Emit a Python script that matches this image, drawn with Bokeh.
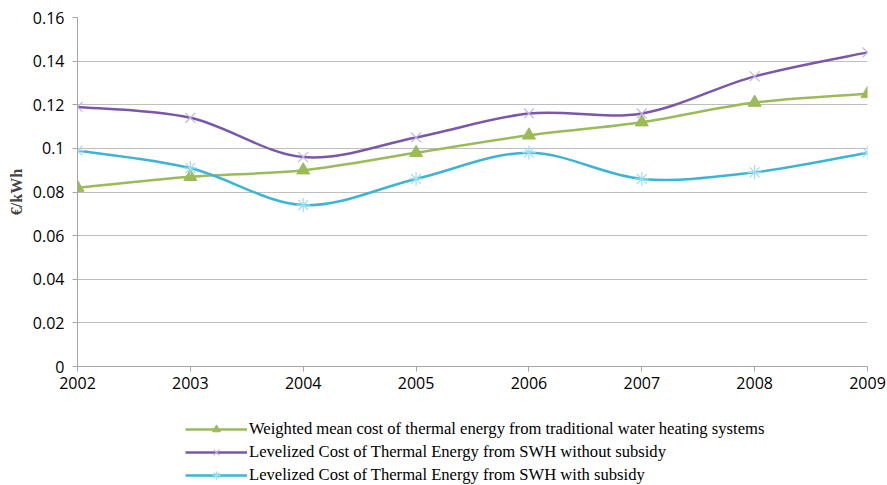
from bokeh.plotting import figure
from bokeh.layouts import column
from bokeh.models import Legend, LegendItem, FixedTicker, Range1d
from bokeh.embed import file_html
from bokeh.resources import INLINE

# Years and cost series (€/kWh)
years = [2002, 2003, 2004, 2005, 2006, 2007, 2008, 2009]
traditional = [0.082, 0.087, 0.090, 0.098, 0.106, 0.112, 0.121, 0.125]
swh_no_subsidy = [0.119, 0.114, 0.096, 0.105, 0.116, 0.116, 0.133, 0.144]
swh_subsidy = [0.099, 0.091, 0.074, 0.086, 0.098, 0.086, 0.089, 0.098]

y_ticks = [0, 0.02, 0.04, 0.06, 0.08, 0.1, 0.12, 0.14, 0.16]
y_tick_labels = ["0", "0.02", "0.04", "0.06", "0.08", "0.1", "0.12", "0.14", "0.16"]

labels = [
    "Weighted mean cost of thermal energy from traditional water heating systems",
    "Levelized Cost of Thermal Energy from SWH without subsidy",
    "Levelized Cost of Thermal Energy from SWH with subsidy",
]

SERIF = "Liberation Serif"
SANS = "Open Sans"


def smooth_segments(xs, ys):
    """Catmull-Rom style cubic Bezier control points for a smoothed line."""
    n = len(xs)
    seg = dict(x0=[], y0=[], x1=[], y1=[], cx0=[], cy0=[], cx1=[], cy1=[])
    for i in range(n - 1):
        pm = max(i - 1, 0)
        pn = min(i + 2, n - 1)
        seg["x0"].append(xs[i]); seg["y0"].append(ys[i])
        seg["x1"].append(xs[i + 1]); seg["y1"].append(ys[i + 1])
        seg["cx0"].append(xs[i] + (xs[i + 1] - xs[pm]) / 6)
        seg["cy0"].append(ys[i] + (ys[i + 1] - ys[pm]) / 6)
        seg["cx1"].append(xs[i + 1] - (xs[pn] - xs[i]) / 6)
        seg["cy1"].append(ys[i + 1] - (ys[pn] - ys[i]) / 6)
    return seg


p = figure(
    width=887, height=399,
    x_range=Range1d(2002, 2009), y_range=Range1d(0, 0.16),
    output_backend="svg", toolbar_location=None,
    min_border_left=77, min_border_right=20, min_border_top=17, min_border_bottom=33,
)
p.outline_line_color = None
p.background_fill_color = "white"

# axes
p.xaxis.ticker = FixedTicker(ticks=years)
p.yaxis.ticker = FixedTicker(ticks=y_ticks)
p.yaxis.major_label_overrides = {t: l for t, l in zip(y_ticks, y_tick_labels)}
for ax in (p.xaxis[0], p.yaxis[0]):
    ax.axis_line_color = "#a6a6a6"
    ax.major_tick_line_color = "#a6a6a6"
    ax.major_tick_out = 5
    ax.major_tick_in = 0
    ax.minor_tick_line_color = None
    ax.major_label_text_font = SANS
    ax.major_label_text_font_size = "16px"
    ax.major_label_text_color = "black"
p.xaxis.major_label_standoff = 5
p.yaxis.major_label_standoff = 8
p.yaxis.axis_label = "€/kWh"
p.yaxis.axis_label_text_font = SERIF
p.yaxis.axis_label_text_font_style = "bold"
p.yaxis.axis_label_text_font_size = "16px"
p.yaxis.axis_label_standoff = 5

p.xgrid.grid_line_color = None
p.ygrid.grid_line_color = "#bfbfbf"
p.ygrid.grid_line_width = 1.2

series = [
    (traditional, "#9bbb59", "#9bbb59", "triangle", 13),
    (swh_no_subsidy, "#7a57a8", "#c4b5dc", "x", 14),
    (swh_subsidy, "#3cb4d4", "#9fdcf0", "asterisk", 14),
]


def draw_marker(fig, xs, ys, marker, size, color):
    if marker == "triangle":
        return fig.scatter(xs, ys, marker=marker, size=size,
                           fill_color=color, line_color=color)
    return fig.scatter(xs, ys, marker=marker, size=size,
                       line_color=color, line_width=1.2)


for vals, line_col, mark_col, marker, size in series:
    seg = smooth_segments(years, vals)
    p.bezier(x0="x0", y0="y0", x1="x1", y1="y1", cx0="cx0", cy0="cy0",
             cx1="cx1", cy1="cy1", source=seg,
             line_color=line_col, line_width=2.5)
    draw_marker(p, years, vals, marker, size, mark_col)

# legend strip under the chart; its sample renderers sit outside the visible range
leg_fig = figure(
    width=887, height=86, output_backend="svg", toolbar_location=None,
    x_range=Range1d(0, 1), y_range=Range1d(0, 1),
    min_border_left=0, min_border_right=0, min_border_top=0, min_border_bottom=0,
)
leg_fig.axis.visible = False
leg_fig.grid.grid_line_color = None
leg_fig.outline_line_color = None

items = []
for (vals, line_col, mark_col, marker, size), label in zip(series, labels):
    r_line = leg_fig.line([-10, -9], [-10, -9], line_color=line_col, line_width=2.5)
    r_mark = draw_marker(leg_fig, [-10], [-10], marker, size, mark_col)
    items.append(LegendItem(label=label, renderers=[r_line, r_mark]))

legend = Legend(
    items=items, orientation="vertical", location=(108, 0),
    label_text_font=SERIF, label_text_font_size="16.6px", label_text_color="black",
    glyph_width=62, glyph_height=20, label_standoff=2, spacing=3,
    padding=0, margin=0, border_line_color=None, background_fill_alpha=0,
    label_height=20,
)
leg_fig.add_layout(legend, "center")

layout = column(p, leg_fig, spacing=0)
open("out.html", "w").write(file_html(layout, INLINE))
